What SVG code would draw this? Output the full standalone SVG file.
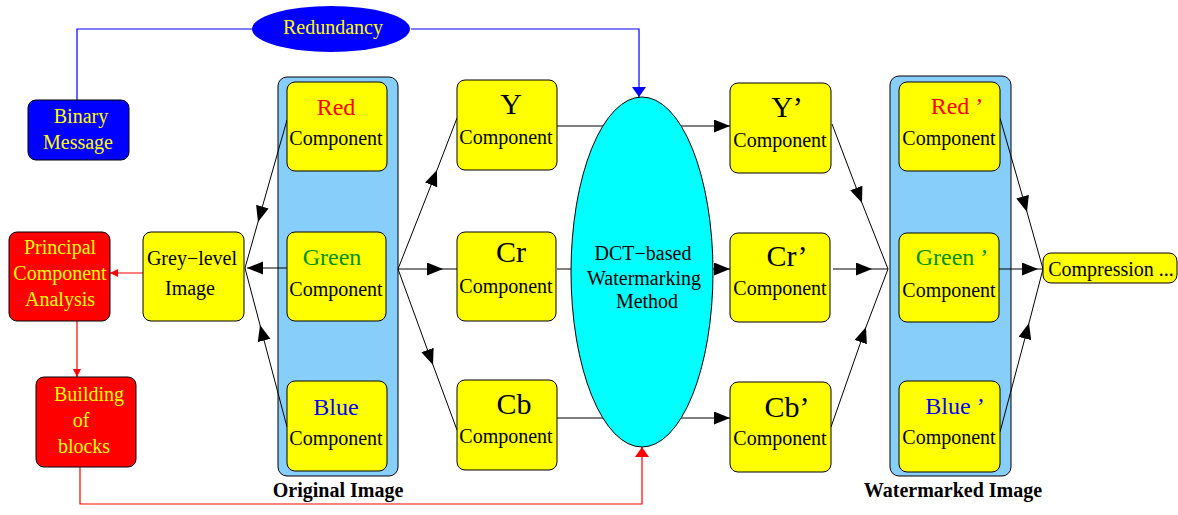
<svg xmlns="http://www.w3.org/2000/svg" width="1178" height="515" viewBox="0 0 1178 515">
<style>
text{font-family:"Liberation Serif","Times New Roman",serif;text-anchor:middle}
.box{fill:#ffff00;stroke:#000;stroke-width:1}
.cont{fill:#87cefa;stroke:#000;stroke-width:1}
.redb{fill:#ff0000;stroke:#000;stroke-width:1}
.ln{fill:none;stroke:#000;stroke-width:1}
.lr{fill:none;stroke:#ff0000;stroke-width:1.2}
.lb{fill:none;stroke:#0000ff;stroke-width:1.2}
.t20{font-size:20px;fill:#000}
.big{font-size:30px;fill:#000}
.col{font-size:24px}
.yel{font-size:20px;fill:#ffff00}
.bold{font-size:20px;font-weight:bold;fill:#000}
</style>
<defs>
<marker id="ah" markerUnits="userSpaceOnUse" markerWidth="18" markerHeight="14" refX="16" refY="6.5" orient="auto"><path d="M0,0 L16,6.5 L0,13 z" fill="#000"/></marker>
<marker id="ahr" markerUnits="userSpaceOnUse" markerWidth="12" markerHeight="16" refX="10" refY="7" orient="auto"><path d="M0,0 L10,7 L0,14 z" fill="#ff0000"/></marker>
<marker id="ahrs" markerUnits="userSpaceOnUse" markerWidth="10" markerHeight="10" refX="8" refY="4" orient="auto"><path d="M0,0 L8,4 L0,8 z" fill="#ff0000"/></marker>
<marker id="ahb" markerUnits="userSpaceOnUse" markerWidth="12" markerHeight="16" refX="10" refY="7" orient="auto"><path d="M0,0 L10,7 L0,14 z" fill="#0000ff"/></marker>
</defs>

<g id="original-image">
<rect class="cont" x="278" y="77" width="120" height="399" rx="9"/>
<text class="bold" x="338" y="497">Original Image</text>
</g>
<g id="watermarked-image">
<rect class="cont" x="890" y="76" width="121" height="400" rx="9"/>
<text class="bold" x="953" y="497">Watermarked Image</text>
</g>

<g id="connectors">
<path class="lb" d="M77,100 V29 H252"/>
<path class="lb" d="M411,29 H639 V97" marker-end="url(#ahb)"/>
<path class="lr" d="M143,273 H110" marker-end="url(#ahrs)"/>
<path class="lr" d="M77,321 V377" marker-end="url(#ahrs)"/>
<path class="lr" d="M80,467 V504 H642 V447" marker-end="url(#ahr)"/>

<path class="ln" d="M287,120 L258,222" marker-end="url(#ah)"/><path class="ln" d="M258,222 L245,268"/>
<path class="ln" d="M287,268 L247,268" marker-end="url(#ah)"/>
<path class="ln" d="M287,427 L260,325" marker-end="url(#ah)"/><path class="ln" d="M260,325 L245,268"/>

<path class="ln" d="M398,269 L437,170" marker-end="url(#ah)"/><path class="ln" d="M437,170 L457,118"/>
<path class="ln" d="M398,269 L443,269" marker-end="url(#ah)"/><path class="ln" d="M443,269 L457,269"/>
<path class="ln" d="M398,269 L433,365" marker-end="url(#ah)"/><path class="ln" d="M433,365 L457,430"/>

<path class="ln" d="M557,126 L730,126" marker-end="url(#ah)"/>
<path class="ln" d="M557,269 L730,269" marker-end="url(#ah)"/>
<path class="ln" d="M557,418 L730,418" marker-end="url(#ah)"/>

<path class="ln" d="M832,124 L862,203" marker-end="url(#ah)"/><path class="ln" d="M862,203 L888,269"/>
<path class="ln" d="M833,269 L872,269" marker-end="url(#ah)"/><path class="ln" d="M872,269 L888,269"/>
<path class="ln" d="M831,427 L866,327" marker-end="url(#ah)"/><path class="ln" d="M866,327 L888,269"/>

<path class="ln" d="M1000,118 L1027,212" marker-end="url(#ah)"/><path class="ln" d="M1027,212 L1043,269"/>
<path class="ln" d="M999,269 L1038,269" marker-end="url(#ah)"/><path class="ln" d="M1038,269 L1043,269"/>
<path class="ln" d="M1000,432 L1029,323" marker-end="url(#ah)"/><path class="ln" d="M1029,323 L1043,269"/>
</g>

<g id="redundancy">
<ellipse cx="331" cy="29" rx="79" ry="23" fill="#0000ff"/>
<text class="yel" x="333" y="34">Redundancy</text>
</g>
<g id="binary-message">
<rect x="28" y="100" width="101" height="60" rx="8" fill="#0000ff" stroke="#000"/>
<text class="yel" x="81" y="123">Binary</text>
<text class="yel" x="78" y="149">Message</text>
</g>
<g id="pca">
<rect class="redb" x="9" y="232" width="101" height="89" rx="8"/>
<text class="yel" x="60" y="254">Principal</text>
<text class="yel" x="60" y="280">Component</text>
<text class="yel" x="60" y="306">Analysis</text>
</g>
<g id="building-blocks">
<rect class="redb" x="36" y="377" width="100" height="90" rx="8"/>
<text class="yel" x="89" y="401">Building</text>
<text class="yel" x="81" y="427">of</text>
<text class="yel" x="84" y="453">blocks</text>
</g>
<g id="grey-level">
<rect class="box" x="143" y="232" width="101" height="89" rx="8"/>
<text class="t20" x="192" y="265">Grey−level</text>
<text class="t20" x="190" y="295">Image</text>
</g>

<g id="red-component">
<rect class="box" x="287" y="82" width="100" height="89" rx="8"/>
<text class="col" x="336" y="115" fill="#ff0000">Red</text>
<text class="t20" x="336" y="145">Component</text>
</g>
<g id="green-component">
<rect class="box" x="287" y="232" width="99" height="89" rx="8"/>
<text class="col" x="332" y="265" fill="#009000">Green</text>
<text class="t20" x="336" y="296">Component</text>
</g>
<g id="blue-component">
<rect class="box" x="287" y="381" width="100" height="90" rx="8"/>
<text class="col" x="336" y="415" fill="#0000ff">Blue</text>
<text class="t20" x="336" y="445">Component</text>
</g>

<g id="y-component">
<rect class="box" x="457" y="80" width="100" height="90" rx="8"/>
<text class="big" x="511" y="114">Y</text>
<text class="t20" x="506" y="144">Component</text>
</g>
<g id="cr-component">
<rect class="box" x="457" y="232" width="99" height="89" rx="8"/>
<text class="big" x="511" y="262">Cr</text>
<text class="t20" x="506" y="293">Component</text>
</g>
<g id="cb-component">
<rect class="box" x="457" y="380" width="100" height="90" rx="8"/>
<text class="big" x="514" y="414">Cb</text>
<text class="t20" x="506" y="443">Component</text>
</g>

<g id="dct">
<ellipse cx="642" cy="272" rx="71" ry="175" fill="#00ffff" stroke="#000" stroke-width="1"/>
<text class="t20" x="643" y="260">DCT−based</text>
<text class="t20" x="644" y="285">Watermarking</text>
<text class="t20" x="647" y="308">Method</text>
</g>

<g id="y-prime">
<rect class="box" x="730" y="83" width="101" height="90" rx="8"/>
<text class="big" x="787" y="117">Y’</text>
<text class="t20" x="780" y="147">Component</text>
</g>
<g id="cr-prime">
<rect class="box" x="730" y="233" width="100" height="89" rx="8"/>
<text class="big" x="787" y="266">Cr’</text>
<text class="t20" x="780" y="295">Component</text>
</g>
<g id="cb-prime">
<rect class="box" x="730" y="382" width="101" height="90" rx="8"/>
<text class="big" x="787" y="417">Cb’</text>
<text class="t20" x="780" y="445">Component</text>
</g>

<g id="red-prime">
<rect class="box" x="899" y="82" width="101" height="89" rx="8"/>
<text class="col" x="957" y="114" fill="#ff0000">Red ’</text>
<text class="t20" x="949" y="145">Component</text>
</g>
<g id="green-prime">
<rect class="box" x="899" y="233" width="100" height="89" rx="8"/>
<text class="col" x="952" y="265" fill="#009000">Green ’</text>
<text class="t20" x="949" y="297">Component</text>
</g>
<g id="blue-prime">
<rect class="box" x="899" y="381" width="101" height="91" rx="8"/>
<text class="col" x="955" y="414" fill="#0000ff">Blue ’</text>
<text class="t20" x="949" y="444">Component</text>
</g>

<g id="compression">
<rect class="box" x="1043" y="253" width="134" height="30" rx="8"/>
<text class="t20" x="1111" y="276">Compression ...</text>
</g>
</svg>
